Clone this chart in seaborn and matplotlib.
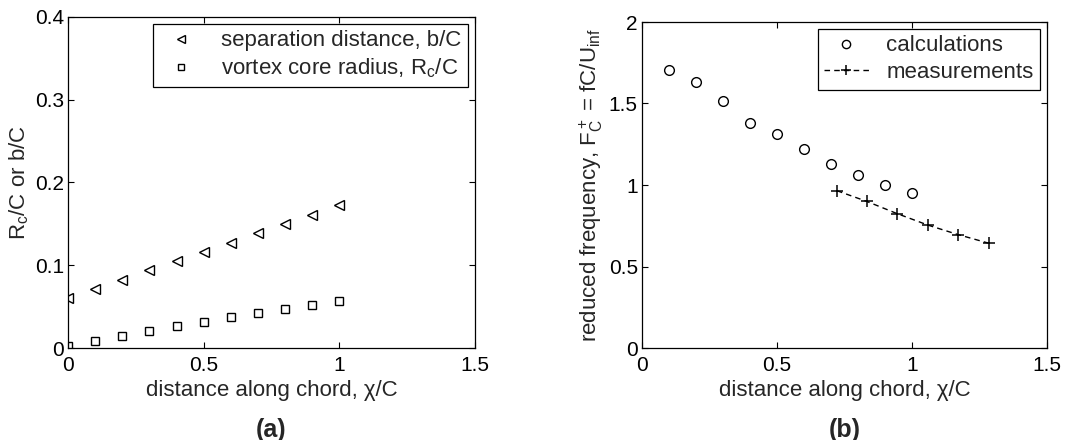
import matplotlib
matplotlib.use("Agg")
import matplotlib.pyplot as plt
import seaborn as sns
import numpy as np
import pandas as pd
from matplotlib.ticker import FixedLocator, FuncFormatter

# ---- data ----
x_a = [0.0, 0.1, 0.2, 0.3, 0.4, 0.5, 0.6, 0.7, 0.8, 0.9, 1.0]
sep_dist = [0.061, 0.071, 0.082, 0.094, 0.105, 0.116, 0.127, 0.139, 0.150, 0.161, 0.173]
core_radius = [0.002, 0.009, 0.014, 0.020, 0.026, 0.032, 0.037, 0.042, 0.047, 0.052, 0.057]

x_calc = [0.1, 0.2, 0.3, 0.4, 0.5, 0.6, 0.7, 0.8, 0.9, 1.0]
f_calc = [1.704, 1.632, 1.513, 1.382, 1.310, 1.218, 1.129, 1.062, 1.002, 0.949]

x_meas = [0.722, 0.833, 0.944, 1.059, 1.170, 1.284]
f_meas = [0.965, 0.899, 0.825, 0.754, 0.696, 0.643]

xticks = [0, 0.5, 1, 1.5]
yticks_a = [0, 0.1, 0.2, 0.3, 0.4]
yticks_b = [0, 0.5, 1, 1.5, 2]

sns.set_style("ticks")
plt.rcParams['font.family'] = ['Liberation Sans', 'DejaVu Sans']
plt.rcParams['mathtext.fontset'] = 'custom'
plt.rcParams['mathtext.rm'] = 'Liberation Sans'
plt.rcParams['mathtext.it'] = 'Liberation Sans'
FS_TICK = 15
FS_LAB = 16
FS_LEG = 16

fig = plt.figure(figsize=(10.84, 4.4), dpi=100)
ax1 = fig.add_axes([68/1084, 92/440, 407/1084, 331/440])
ax2 = fig.add_axes([642/1084, 92/440, 405/1084, 326/440])

fmt = FuncFormatter(lambda v, p: f"{v:g}")

# ---- panel (a) ----
sns.lineplot(x=x_a, y=sep_dist, ax=ax1, marker='<', linestyle='', color='k',
             markerfacecolor='none', markeredgecolor='k', markersize=6.5,
             markeredgewidth=1.0, label='separation distance, b/C')
sns.lineplot(x=x_a, y=core_radius, ax=ax1, marker='s', linestyle='', color='k',
             markerfacecolor='none', markeredgecolor='k', markersize=5.5,
             markeredgewidth=1.0, label='vortex core radius, R$_c$/C')
ax1.set_xlim(0, 1.5)
ax1.set_ylim(0, 0.4)
ax1.xaxis.set_major_locator(FixedLocator(xticks))
ax1.yaxis.set_major_locator(FixedLocator(yticks_a))
ax1.set_xlabel('distance along chord, χ/C', fontsize=FS_LAB, labelpad=3)
ax1.set_ylabel('R$_c$/C or b/C', fontsize=FS_LAB, labelpad=3)

# ---- panel (b) ----
sns.lineplot(x=x_calc, y=f_calc, ax=ax2, marker='o', linestyle='', color='k',
             markerfacecolor='none', markeredgecolor='k', markersize=7,
             markeredgewidth=1.0, label='calculations')
sns.lineplot(x=x_meas, y=f_meas, ax=ax2, marker='+', linestyle=(0, (4, 3)), color='k',
             markeredgecolor='k', linewidth=1.0, markersize=9, markeredgewidth=1.1,
             label='measurements')
ax2.set_xlim(0, 1.5)
ax2.set_ylim(0, 2)
ax2.xaxis.set_major_locator(FixedLocator(xticks))
ax2.yaxis.set_major_locator(FixedLocator(yticks_b))
ax2.set_xlabel('distance along chord, χ/C', fontsize=FS_LAB, labelpad=3)
ax2.set_ylabel('reduced frequency, F$_C^+$ = fC/U$_{inf}$', fontsize=FS_LAB, labelpad=3)

for ax in (ax1, ax2):
    ax.xaxis.set_major_formatter(fmt)
    ax.yaxis.set_major_formatter(fmt)
    ax.tick_params(direction='in', top=True, right=True, length=4, width=0.8,
                   labelsize=FS_TICK, colors='k')
    ax.tick_params(axis='x', pad=6)
    ax.tick_params(axis='y', pad=3)
    for s in ax.spines.values():
        s.set_visible(True)
        s.set_linewidth(0.9)
        s.set_color('k')
    leg = ax.legend(loc='upper right', fontsize=FS_LEG, frameon=True, fancybox=False,
                    edgecolor='k', framealpha=1, handlelength=2.0, borderpad=0.3,
                    labelspacing=0.25, handletextpad=0.8, borderaxespad=0.3,
                    markerscale=0.85)
    leg.get_frame().set_linewidth(0.9)

fig.text((68 + 475) / 2 / 1084, 1 - 430 / 440, '(a)', fontsize=18, fontweight='bold',
         ha='center', va='center')
fig.text((642 + 1047) / 2 / 1084, 1 - 430 / 440, '(b)', fontsize=18, fontweight='bold',
         ha='center', va='center')

fig.savefig('out.png', dpi=100)
